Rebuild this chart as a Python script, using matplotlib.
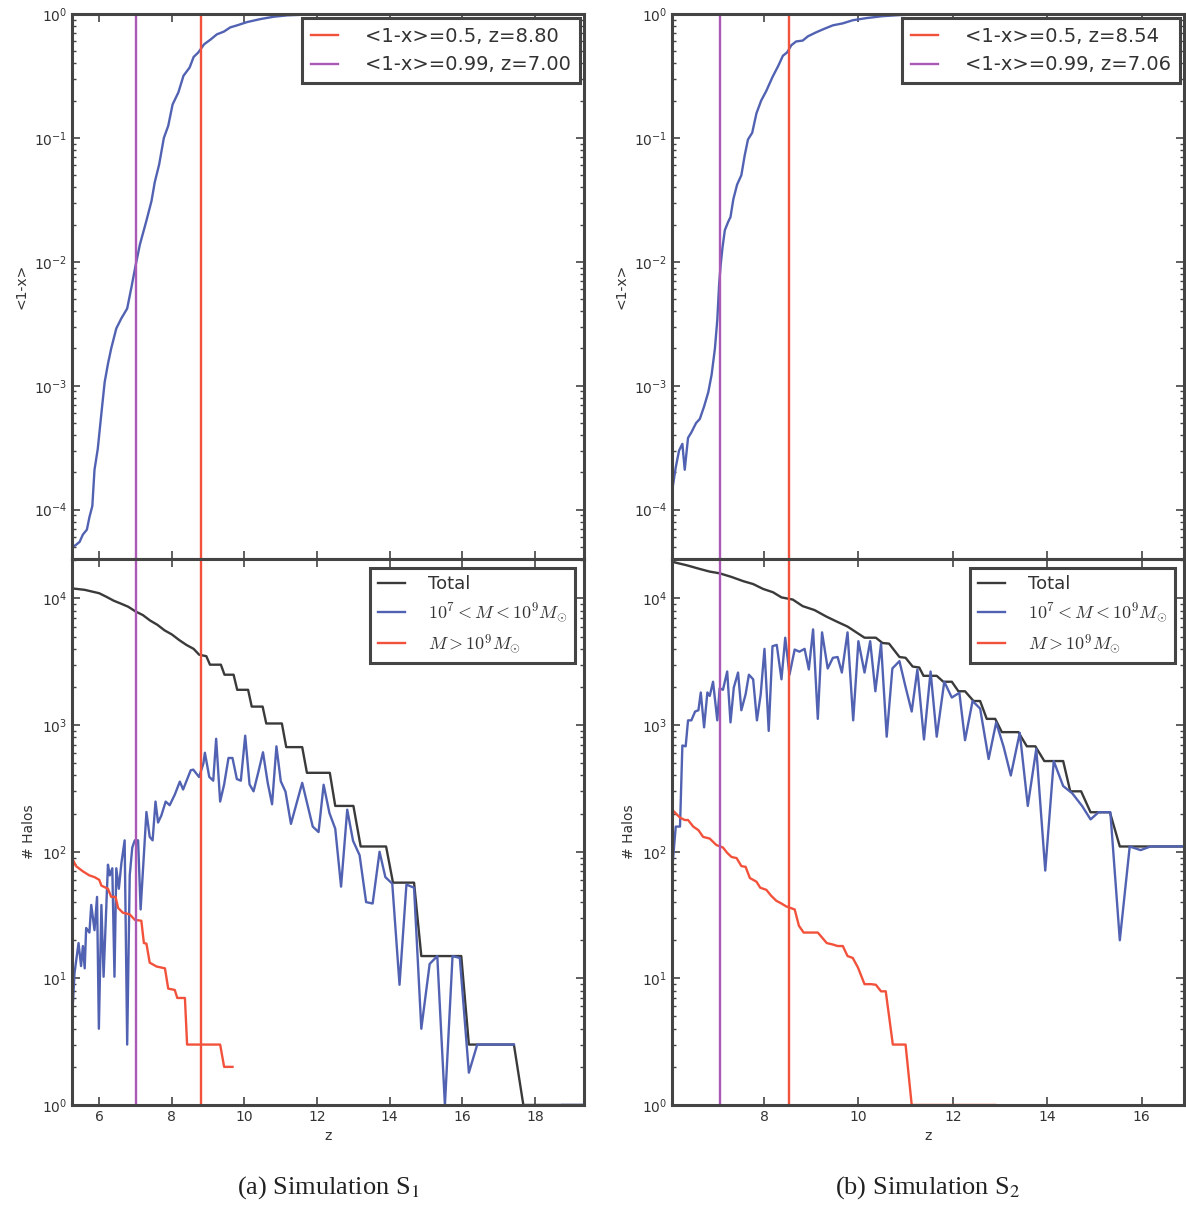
import numpy as np
import matplotlib
matplotlib.use('Agg')
import matplotlib.pyplot as plt

plt.rcParams['font.family'] = ['DejaVu Sans']
plt.rcParams['mathtext.fontset'] = 'cm'

BLUE = '#5262b2'
RED = '#f2523c'
PURPLE = '#aa5ab4'
BLACK = '#3a3a3a'
GRAY = '#444444'

# ---------------- Simulation S1 ----------------
z_ion_a = [5.27, 5.36, 5.46, 5.55, 5.66, 5.73, 5.81, 5.87, 5.96, 6.06, 6.15, 6.24, 6.33,
           6.47, 6.61, 6.77, 6.89, 7.0, 7.12, 7.3, 7.44, 7.53, 7.65, 7.78, 7.9, 8.02,
           8.18, 8.32, 8.49, 8.6, 8.73, 8.89, 9.06, 9.24, 9.43, 9.61, 9.8, 10.07, 10.44,
           10.81, 11.18, 11.55, 12.0, 13.0, 15.0, 19.3]
x_ion_a = [5.0e-5, 5.2e-5, 5.5e-5, 6.3e-5, 6.9e-5, 8.7e-5, 1.07e-4, 2.1e-4, 3.1e-4, 6.0e-4,
           1.07e-3, 1.5e-3, 2.0e-3, 2.9e-3, 3.5e-3, 4.2e-3, 6.3e-3, 9.3e-3, 0.0138, 0.0215,
           0.031, 0.044, 0.061, 0.10, 0.125, 0.186, 0.233, 0.317, 0.37, 0.45, 0.49, 0.57,
           0.62, 0.685, 0.72, 0.78, 0.81, 0.86, 0.91, 0.95, 0.975, 0.985, 0.99, 0.996,
           0.999, 1.0]
z50_a, z99_a = 8.80, 7.00

z_tot_a = [5.27, 5.6, 6.0, 6.2, 6.4, 6.6, 6.8, 7.0, 7.2, 7.4, 7.6, 7.8, 8.0, 8.2, 8.4,
           8.6, 8.75, 8.95, 9.05, 9.35, 9.45, 9.7, 9.8, 10.1, 10.2, 10.5, 10.6, 11.03,
           11.15, 11.59, 11.72, 12.35, 12.5, 13.0, 13.2, 13.9, 14.09, 14.67, 14.87, 15.97,
           16.18, 17.42, 17.68, 19.3]
n_tot_a = [12000, 11700, 11000, 10300, 9600, 9100, 8600, 7900, 7400, 6700, 6200, 5600,
           5200, 4700, 4300, 4000, 3600, 3500, 3000, 3000, 2500, 2500, 1900, 1900, 1400,
           1400, 1030, 1030, 670, 670, 420, 420, 230, 230, 110, 110, 57, 57, 15, 15, 3, 3,
           1, 1]

z_mid_a = [5.27, 5.32, 5.43, 5.5, 5.55, 5.6, 5.64, 5.73, 5.78, 5.87, 5.94, 5.99, 6.06,
           6.12, 6.24, 6.29, 6.36, 6.42, 6.47, 6.54, 6.61, 6.7, 6.77, 6.84, 6.91, 6.98,
           7.07, 7.14, 7.3, 7.39, 7.47, 7.55, 7.62, 7.71, 7.83, 7.94, 8.08, 8.22, 8.31,
           8.52, 8.59, 8.75, 8.87, 8.91, 9.03, 9.14, 9.22, 9.33, 9.44, 9.56, 9.67, 9.79,
           9.9, 10.02, 10.14, 10.25, 10.39, 10.51, 10.64, 10.76, 10.88, 11.0, 11.13,
           11.28, 11.59, 11.72, 11.88, 12.04, 12.18, 12.34, 12.5, 12.66, 12.83, 12.99,
           13.17, 13.35, 13.53, 13.72, 13.88, 14.07, 14.27, 14.46, 14.67, 14.87, 15.1,
           15.31, 15.52, 15.73, 15.93, 16.18, 16.41, 17.42, 17.6, 18.75, 19.3]
n_mid_a = [6, 11, 19, 12.5, 18, 12, 25, 23, 38, 24, 44, 4, 38, 10.3, 79, 65, 74, 10.3,
           74, 51, 81, 123, 3, 65, 108, 123, 123, 35, 206, 131, 123, 249, 170, 193, 249,
           233, 282, 358, 310, 440, 445, 389, 500, 605, 390, 364, 780, 249, 340, 550, 550,
           375, 364, 825, 340, 300, 435, 610, 350, 237, 680, 360, 298, 166, 350, 245, 158,
           143, 338, 202, 152, 53, 215, 122, 94, 40, 39, 100, 63, 56, 8.9, 55, 52, 4, 13,
           15, 1, 15, 14.5, 1.8, 3, 3, np.nan, 1, 1]

z_big_a = [5.27, 5.36, 5.55, 5.73, 5.87, 6.0, 6.06, 6.24, 6.33, 6.45, 6.52, 6.65, 6.84,
           6.98, 7.16, 7.23, 7.3, 7.39, 7.58, 7.81, 7.9, 8.08, 8.15, 8.36, 8.42, 9.33,
           9.44, 9.67]
n_big_a = [87, 77, 70, 65, 63, 60, 54, 51, 44, 44, 36, 33, 32, 29, 28.5, 19, 18.8, 13.3,
           12.4, 12, 8.3, 8.1, 7, 7, 3, 3, 2, 2]

# ---------------- Simulation S2 ----------------
z_ion_b = [6.05, 6.13, 6.2, 6.27, 6.32, 6.39, 6.46, 6.56, 6.64, 6.73, 6.82, 6.89, 6.96,
           7.01, 7.05, 7.08, 7.12, 7.17, 7.24, 7.29, 7.35, 7.43, 7.52, 7.59, 7.66, 7.75,
           7.84, 7.94, 8.05, 8.18, 8.3, 8.4, 8.49, 8.58, 8.68, 8.82, 8.93, 9.1, 9.28, 9.46,
           9.67, 9.88, 10.16, 10.51, 10.87, 11.22, 12.0, 13.5, 16.9]
x_ion_b = [1.4e-4, 2.2e-4, 3.0e-4, 3.4e-4, 2.1e-4, 3.8e-4, 4.2e-4, 5.0e-4, 5.4e-4, 6.8e-4,
           8.9e-4, 1.23e-3, 2.0e-3, 3.4e-3, 6.7e-3, 9.3e-3, 0.013, 0.018, 0.021, 0.023,
           0.032, 0.042, 0.05, 0.072, 0.097, 0.11, 0.158, 0.2, 0.24, 0.31, 0.38, 0.46,
           0.49, 0.56, 0.6, 0.61, 0.66, 0.71, 0.76, 0.81, 0.84, 0.89, 0.925, 0.96, 0.98,
           0.99, 0.996, 0.999, 1.0]
z50_b, z99_b = 8.54, 7.06

z_tot_b = [6.05, 6.36, 6.64, 6.85, 7.06, 7.31, 7.56, 7.77, 7.98, 8.19, 8.37, 8.61, 8.82,
           9.07, 9.32, 9.53, 9.77, 9.99, 10.13, 10.37, 10.51, 10.65, 10.87, 11.0, 11.15,
           11.29, 11.38, 11.66, 11.8, 11.98, 12.12, 12.26, 12.44, 12.58, 12.72, 12.9,
           13.04, 13.39, 13.57, 13.75, 13.94, 14.34, 14.49, 14.72, 14.92, 15.33, 15.54,
           16.9]
n_tot_b = [19500, 18300, 17100, 16300, 15800, 14800, 13700, 13000, 11900, 11200, 10200,
           9800, 8700, 8100, 7200, 6600, 6000, 5300, 4900, 4900, 4450, 4400, 3450, 3400,
           2900, 2850, 2450, 2450, 2200, 2200, 1850, 1850, 1550, 1550, 1120, 1120, 880,
           880, 680, 680, 520, 520, 300, 300, 205, 205, 110, 110]

z_mid_b = [6.05, 6.13, 6.22, 6.27, 6.34, 6.39, 6.46, 6.54, 6.61, 6.66, 6.73, 6.8, 6.85,
           6.92, 7.01, 7.06, 7.13, 7.22, 7.29, 7.36, 7.45, 7.52, 7.61, 7.68, 7.77, 7.85,
           7.93, 8.01, 8.1, 8.18, 8.27, 8.37, 8.45, 8.54, 8.65, 8.75, 8.86, 8.95, 9.04,
           9.14, 9.23, 9.35, 9.46, 9.56, 9.65, 9.77, 9.89, 10.0, 10.13, 10.25, 10.36,
           10.48, 10.6, 10.72, 10.87, 11.0, 11.13, 11.25, 11.39, 11.53, 11.66, 11.82,
           11.98, 12.14, 12.26, 12.42, 12.58, 12.76, 12.92, 13.08, 13.23, 13.42, 13.59,
           13.77, 13.96, 14.14, 14.34, 14.53, 14.74, 14.92, 15.09, 15.34, 15.54, 15.75,
           15.98, 16.19, 16.9]
n_mid_b = [70, 158, 158, 690, 680, 1090, 1090, 1280, 1310, 1810, 960, 1810, 1700, 2200,
           1090, 1950, 1900, 2650, 1050, 1980, 2600, 1310, 1750, 2500, 2300, 1090, 1750,
           4000, 900, 4200, 4300, 2300, 4900, 2500, 3950, 3800, 4000, 2750, 5700, 1120,
           5400, 2800, 3400, 3450, 2600, 5400, 1090, 4600, 2600, 4600, 1850, 4400, 810,
           2800, 3200, 2000, 1280, 2750, 770, 2650, 810, 2200, 1650, 1800, 760, 1550,
           1350, 540, 1050, 670, 400, 870, 230, 650, 71, 520, 330, 290, 230, 180, 205, 205,
           20, 110, 103, 110, 110]

z_big_b = [6.05, 6.22, 6.32, 6.39, 6.5, 6.61, 6.71, 6.85, 6.99, 7.13, 7.22, 7.31, 7.42,
           7.52, 7.61, 7.7, 7.84, 7.92, 8.05, 8.15, 8.26, 8.37, 8.47, 8.56, 8.65, 8.74,
           8.84, 9.14, 9.33, 9.46, 9.56, 9.67, 9.77, 9.88, 9.99, 10.13, 10.27, 10.37,
           10.48, 10.58, 10.73, 11.0, 11.13, 12.9]
n_big_b = [215, 186, 178, 178, 158, 148, 131, 127, 113, 108, 98, 91, 89, 77, 76, 62, 58,
           52, 50, 45, 41, 39, 37, 36, 35, 26, 23, 23, 19, 18.5, 18, 18, 15, 14.5, 12.2, 9,
           9, 8.9, 7.9, 7.9, 3, 3, 1, 1]

sims = [
    dict(z_ion=z_ion_a, x_ion=x_ion_a, z50=z50_a, z99=z99_a, z_tot=z_tot_a, n_tot=n_tot_a,
         z_mid=z_mid_a, n_mid=n_mid_a, z_big=z_big_a, n_big=n_big_a, xlim=(5.25, 19.35),
         left=0.0607, caption=r'(a) Simulation S$_1$'),
    dict(z_ion=z_ion_b, x_ion=x_ion_b, z50=z50_b, z99=z99_b, z_tot=z_tot_b, n_tot=n_tot_b,
         z_mid=z_mid_b, n_mid=n_mid_b, z_big=z_big_b, n_big=n_big_b, xlim=(6.05, 16.9),
         left=0.5666, caption=r'(b) Simulation S$_2$'),
]

fig = plt.figure(figsize=(11.86, 12.05), dpi=100)


def style_axes(ax):
    for s in ax.spines.values():
        s.set_linewidth(2.2)
        s.set_color(GRAY)
    ax.tick_params(which='both', direction='in', top=True, right=True, color=GRAY,
                   labelcolor='#333333', labelsize=10)
    ax.tick_params(which='major', length=6, width=1.2)
    ax.tick_params(which='minor', length=3, width=1.0)


def style_legend(leg):
    leg.get_frame().set_edgecolor(GRAY)
    leg.get_frame().set_linewidth(2.2)
    for t in leg.get_texts():
        t.set_color('#333333')


for s in sims:
    ax1 = fig.add_axes([s['left'], 0.5361, 0.4317, 0.4523])
    ax2 = fig.add_axes([s['left'], 0.0830, 0.4317, 0.4531], sharex=ax1)

    ax1.plot(s['z_ion'], s['x_ion'], color=BLUE, lw=1.7)
    ax1.axvline(s['z50'], color=RED, lw=1.7, label='<1-x>=0.5, z=%.2f' % s['z50'])
    ax1.axvline(s['z99'], color=PURPLE, lw=1.7, label='<1-x>=0.99, z=%.2f' % s['z99'])
    ax1.set_yscale('log')
    ax1.set_ylim(4e-5, 1)
    ax1.set_ylabel('<1-x>', fontsize=10, color='#333333')
    ax1.tick_params(labelbottom=False)
    leg = ax1.legend(loc='upper right', fontsize=14, fancybox=False, framealpha=1,
                     handlelength=1.4, handletextpad=1.4, borderpad=0.45,
                     borderaxespad=0.2, labelspacing=0.5)
    style_legend(leg)

    ax2.plot(s['z_tot'], s['n_tot'], color=BLACK, lw=1.7, label='Total')
    ax2.plot(s['z_mid'], s['n_mid'], color=BLUE, lw=1.7,
             label=r'$10^7 < M < 10^9 M_{\odot}$')
    ax2.plot(s['z_big'], s['n_big'], color=RED, lw=1.7, label=r'$M > 10^9 M_{\odot}$')
    ax2.axvline(s['z50'], color=RED, lw=1.7)
    ax2.axvline(s['z99'], color=PURPLE, lw=1.7)
    ax2.set_yscale('log')
    ax2.set_ylim(1, 2.05e4)
    ax2.set_xlim(*s['xlim'])
    ax2.set_xlabel('z', fontsize=10, color='#333333')
    ax2.set_ylabel('# Halos', fontsize=10, color='#333333')
    leg = ax2.legend(loc='upper right', fontsize=13, fancybox=False, framealpha=1,
                     handlelength=1.5, handletextpad=1.3, borderpad=0.4,
                     borderaxespad=0.5, labelspacing=0.45)
    style_legend(leg)

    style_axes(ax1)
    style_axes(ax2)

    fig.text(s['left'] + 0.4317 / 2, 0.0141, s['caption'], ha='center', va='center',
             fontsize=19, family='Liberation Serif', math_fontfamily='stix',
             color='#222222')

fig.savefig('out.png', dpi=100)
